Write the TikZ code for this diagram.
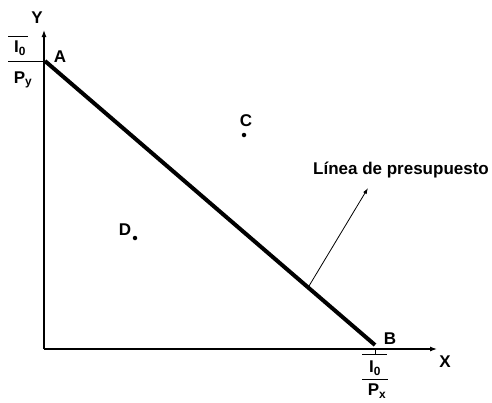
\documentclass[tikz,border=0pt]{standalone}
\usepackage{fontspec}
\setmainfont{Liberation Sans}
\usetikzlibrary{arrows.meta}
\tikzset{
  lbl/.style={font=\fontsize{17}{19}\selectfont\bfseries, inner sep=0pt},
  axis/.style={line width=1.2pt, -{Latex[length=7pt,width=5pt]}},
  budget/.style={line width=4pt},
  dotpt/.style={circle, fill=black, inner sep=0pt, minimum size=4.5pt},
  frac/.style={line width=1pt}
}
\begin{document}
\begin{tikzpicture}[x=1pt,y=-1pt]
\useasboundingbox (0,0) rectangle (492,402);
\coordinate (O) at (44,349);
\coordinate (Ytop) at (44,30);
\coordinate (Xend) at (437,349);
\draw[axis] (O) -- (Ytop);
\draw[axis] (O) -- (Xend);
\node[lbl] (Ylab) at (37,18) {Y};
\node[lbl] (Xlab) at (445,362) {X};
% budget line
\coordinate (A) at (45,61);
\coordinate (B) at (375,345);
\draw[budget] (A) -- (B);
\node[lbl] (Alab) at (60,57) {A};
\node[lbl] (Blab) at (390,339) {B};
% Y intercept fraction
\coordinate (yf1a) at (8,36); \coordinate (yf1b) at (28,36);
\coordinate (yf2a) at (8,61); \coordinate (yf2b) at (44,61);
\draw[frac] (yf1a) -- (yf1b);
\draw[frac] (yf2a) -- (yf2b);
\node[lbl] (Iy) at (20,48) {I\textsubscript{0}};
\node[lbl] (Py) at (23,80) {P\textsubscript{y}};
% X intercept fraction
\coordinate (xf1a) at (362,354); \coordinate (xf1b) at (387,354);
\coordinate (xt) at (375,349);
\coordinate (xf2a) at (362,379); \coordinate (xf2b) at (388,379);
\draw[frac] (xf1a) -- (xf1b);
\draw[frac] (xt) -- (375,354);
\draw[frac] (xf2a) -- (xf2b);
\node[lbl] (Ix) at (375,368) {I\textsubscript{0}};
\node[lbl] (Px) at (377,391) {P\textsubscript{x}};
% points C and D
\node[lbl] (Clab) at (246,121) {C};
\node[dotpt] (C) at (244,135) {};
\node[lbl] (Dlab) at (125,230) {D};
\node[dotpt] (D) at (135,238) {};
% label arrow
\node[lbl] (blab) at (401,170) {Línea de presupuesto};
\coordinate (arrS) at (309,286);
\coordinate (arrE) at (368,188);
\draw[line width=0.8pt, -{Latex[length=6pt,width=4pt]}] (arrS) -- (arrE);
\end{tikzpicture}
\end{document}
